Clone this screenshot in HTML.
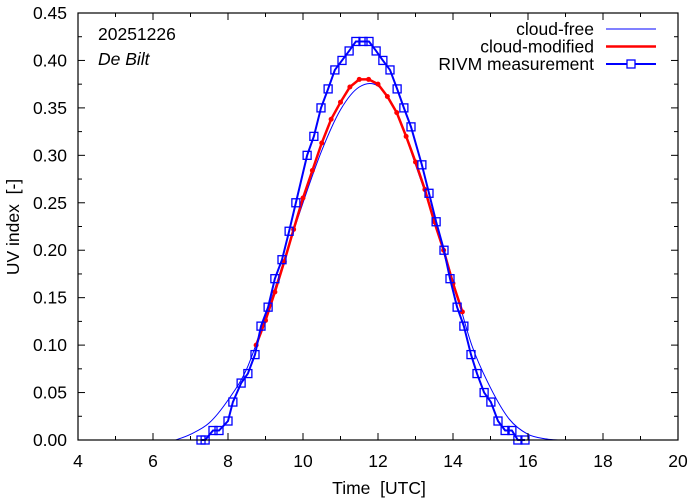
<!DOCTYPE html>
<html><head><meta charset="utf-8"><style>
html,body{margin:0;padding:0;background:#fff}
svg{display:block;font-family:"Liberation Sans",sans-serif}
text{white-space:pre}
</style></head><body>
<svg id="chart" width="694" height="501" xmlns="http://www.w3.org/2000/svg">
<g id="grid"></g>
<g id="series"></g>
<g id="axes"></g>
<g id="legend"></g>
</svg>
<script>
const xTicks=[4,6,8,10,12,14,16,18,20];
const yTicks=[0,0.05,0.10,0.15,0.20,0.25,0.30,0.35,0.40,0.45];
const yTickLabels=["0.00","0.05","0.10","0.15","0.20","0.25","0.30","0.35","0.40","0.45"];
const freeT=[6.6,7,7.5,8,8.5,9,9.5,10,10.5,11,11.5,12,12.5,13,13.5,14,14.5,15,15.5,16,16.5,16.8];
const freeV=[0,0.006,0.018,0.042,0.075,0.13,0.19,0.25,0.305,0.348,0.372,0.373,0.345,0.29,0.232,0.168,0.100,0.055,0.022,0.006,0.001,0];
const modT=[8.75,9,9.25,9.5,9.75,10,10.25,10.5,10.75,11,11.25,11.5,11.75,12,12.25,12.5,12.75,13,13.25,13.5,13.75,14,14.25];
const modV=[0.100,0.126,0.156,0.188,0.222,0.255,0.284,0.313,0.338,0.356,0.372,0.380,0.380,0.375,0.362,0.345,0.320,0.293,0.264,0.230,0.200,0.165,0.135];
const measT=[7.28,7.39,7.60,7.76,8.00,8.13,8.35,8.53,8.72,8.88,9.07,9.25,9.44,9.63,9.81,10.11,10.29,10.48,10.67,10.85,11.04,11.23,11.41,11.60,11.76,11.95,12.13,12.32,12.51,12.69,12.88,13.17,13.36,13.55,13.76,13.92,14.11,14.29,14.48,14.64,14.83,15.01,15.20,15.39,15.57,15.73,15.92];
const measV=[0,0,0.01,0.01,0.02,0.04,0.06,0.07,0.09,0.12,0.14,0.17,0.19,0.22,0.25,0.30,0.32,0.35,0.37,0.39,0.40,0.41,0.42,0.42,0.42,0.41,0.40,0.39,0.37,0.35,0.33,0.29,0.26,0.23,0.20,0.17,0.14,0.12,0.09,0.07,0.05,0.04,0.02,0.01,0.01,0,0];

const L=78,R=678,T=13,B=440,FS=17.5;
const X=t=>L+(t-4)/16*(R-L);
const Y=v=>B-v/0.45*(B-T);
const NS="http://www.w3.org/2000/svg";
function mk(tag,attrs,parent,text){const e=document.createElementNS(NS,tag);for(const k in attrs)e.setAttribute(k,attrs[k]);if(text!==undefined)e.textContent=text;parent.appendChild(e);return e;}
const axes=document.getElementById('axes'),series=document.getElementById('series'),legend=document.getElementById('legend');

const fr=mk('rect',{x:L,y:T,width:R-L,height:B-T,fill:'none',stroke:'#000','stroke-width':1.2},axes);


for(let h=4;h<=20;h++){
  const major=h%2===0,len=major?7:4,x=X(h);
  mk('line',{x1:x,y1:B,x2:x,y2:B-len,stroke:'#000'},axes);
  mk('line',{x1:x,y1:T,x2:x,y2:T+len,stroke:'#000'},axes);
}
xTicks.forEach(t=>{
  const e=mk('text',{x:X(t),y:467,'text-anchor':'middle','font-size':FS},axes,String(t));
  
  
});
for(let i=0;i<=18;i++){
  const v=i*0.025,major=i%2===0,len=major?7:4,y=Y(v);
  mk('line',{x1:L,y1:y,x2:L+len,y2:y,stroke:'#000'},axes);
  mk('line',{x1:R,y1:y,x2:R-len,y2:y,stroke:'#000'},axes);
}
yTicks.forEach((v,i)=>{
  const e=mk('text',{x:67,y:Y(v)+6,'text-anchor':'end','font-size':FS},axes,yTickLabels[i]);
  
  
});
let e=mk('text',{x:379,y:494,'text-anchor':'middle','font-size':FS},axes,'Time  [UTC]');


e=mk('text',{x:0,y:0,'text-anchor':'middle','font-size':FS,transform:'translate(19,227) rotate(-90)'},axes,'UV index  [-]');


e=mk('text',{x:98,y:40,'font-size':FS},axes,'20251226');


e=mk('text',{x:98,y:65,'font-size':FS,'font-style':'italic'},axes,'De Bilt');



function smooth(ts,vs){
  const p=ts.map((t,i)=>[X(t),Y(vs[i])]);
  let d='M'+p[0][0]+','+p[0][1];
  for(let i=0;i<p.length-1;i++){
    const p0=p[i-1]||p[i],p1=p[i],p2=p[i+1],p3=p[i+2]||p2;
    const c1=[p1[0]+(p2[0]-p0[0])/6,p1[1]+(p2[1]-p0[1])/6];
    const c2=[p2[0]-(p3[0]-p1[0])/6,p2[1]-(p3[1]-p1[1])/6];
    d+=' C'+c1+' '+c2+' '+p2;
  }
  return d;
}
e=mk('path',{d:smooth(freeT,freeV),fill:'none',stroke:'#0000ff','stroke-width':1},series);



e=mk('polyline',{points:modT.map((t,i)=>X(t)+','+Y(modV[i])).join(' '),fill:'none',stroke:'#ff0000','stroke-width':2.5},series);


modT.forEach((t,i)=>{
  const c=mk('circle',{cx:X(t),cy:Y(modV[i]),r:2.5,fill:'#ff0000'},series);
  
  
});

e=mk('polyline',{points:measT.map((t,i)=>X(t)+','+Y(measV[i])).join(' '),fill:'none',stroke:'#0000ff','stroke-width':2},series);


measT.forEach((t,i)=>{
  const s=mk('rect',{x:X(t)-4,y:Y(measV[i])-4,width:8,height:8,fill:'none',stroke:'#0000ff','stroke-width':1.3},series);
  
  
});

const leg=[['cloud-free','#0000ff',1,false],['cloud-modified','#ff0000',2.5,false],['RIVM measurement','#0000ff',2,true]];
leg.forEach((l,i)=>{
  const y=29+i*17.5;
  const g=mk('g',{},legend);
  
  
  mk('text',{x:594,y:y+6,'text-anchor':'end','font-size':FS},g,l[0]);
  mk('line',{x1:606,y1:y,x2:656,y2:y,stroke:l[1],'stroke-width':l[2]},g);
  if(l[3])mk('rect',{x:627,y:y-4,width:8,height:8,fill:'#fff',stroke:l[1],'stroke-width':1.3},g);
});
</script>
</body></html>
